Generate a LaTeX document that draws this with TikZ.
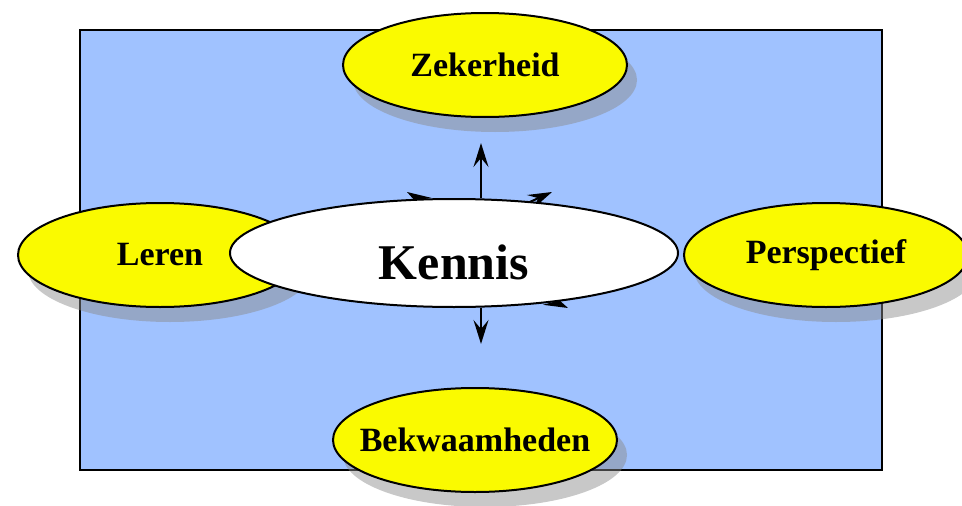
\documentclass[tikz,border=0pt]{standalone}
\usepackage{fontspec}
\setmainfont{Liberation Serif}
\usetikzlibrary{shapes.geometric, shadows, arrows.meta}
\definecolor{vlak}{RGB}{160,194,255}
\definecolor{geel}{RGB}{250,250,0}
\definecolor{schaduw}{RGB}{138,138,138}
\newcommand{\smal}[1]{\makebox[0pt]{#1}}
\tikzset{
    bol/.style={
        ellipse,
        line width=2pt,
        draw=black,
        fill=geel,
        minimum width=284pt,
        minimum height=104pt,
        inner sep=0pt,
        font=\fontsize{34}{40}\selectfont\bfseries,
        drop shadow={shadow xshift=10pt, shadow yshift=-15pt, fill=schaduw, opacity=0.47},
    },
    kern/.style={
        ellipse,
        line width=2pt,
        draw=black,
        fill=white,
        minimum width=448pt,
        minimum height=108pt,
        inner sep=0pt,
        text height=52pt,
        text depth=0pt,
        font=\fontsize{50}{60}\selectfont\bfseries,
    },
    pijl/.style={
        -{Stealth[length=24pt, width=15pt, inset=9pt]},
        line width=2pt,
    },
}

\begin{document}
\begin{tikzpicture}[x=1pt, y=-1pt]
      \useasboundingbox (0,0) rectangle (962,506);
      \draw[line width=1.5pt, fill=vlak] (80,30) rectangle (882,470);

      \node[bol] (zekerheid) at (485,65) {\smal{Zekerheid}};

      \node[bol] (leren) at (160,255) {\smal{Leren}};

      \node[bol] (perspectief) at (826,255) {\smal{Perspectief}};

      \node[bol] (bekwaam) at (475,440) {\smal{Bekwaamheden}};

      % pijlen achter de kern
      \coordinate (linksboven) at (407,192);
      \coordinate (rechtsboven) at (552,192);
      \coordinate (rechtsonder) at (568,308);
      \draw[pijl] (507,252) -- (linksboven);
      \draw[pijl] (452,237) -- (rechtsboven);
      \draw[pijl] (468,262) -- (rechtsonder);

      \node[kern] (kennis) at (454,253) {Kennis};

      \coordinate (boven) at (481,143);
      \coordinate (onder) at (481,344);
      \draw[pijl] (kennis.north -| boven) -- (boven);
      \draw[pijl] (kennis.south -| onder) -- (onder);
    \end{tikzpicture}
\end{document}
